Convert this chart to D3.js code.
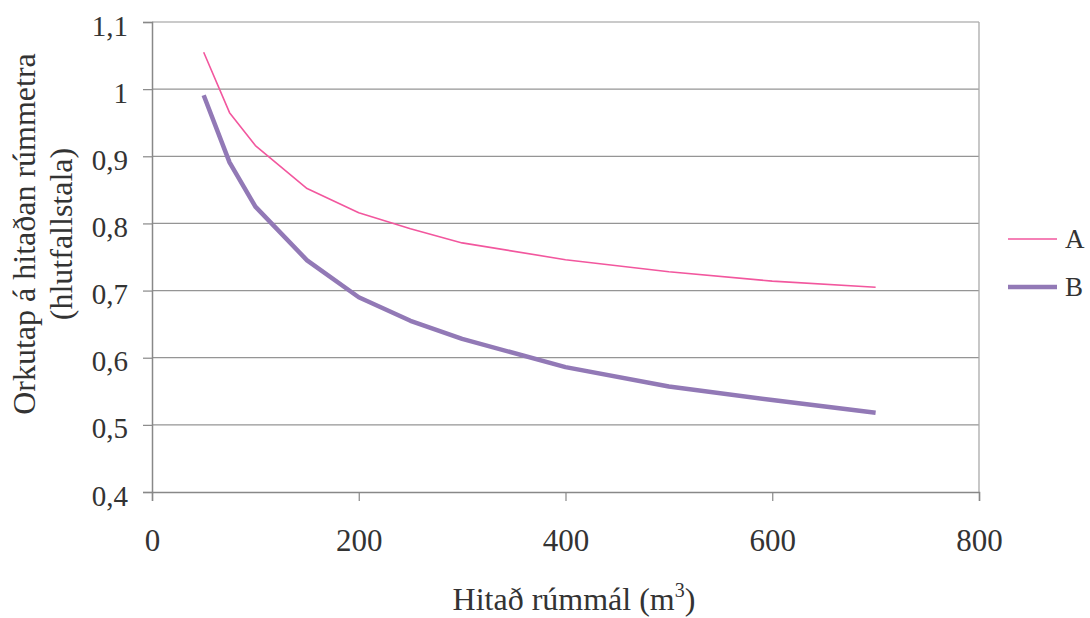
<!DOCTYPE html>
<html>
<head>
<meta charset="utf-8">
<script src="https://cdn.jsdelivr.net/npm/d3@7"></script>
<style>
  body { margin: 0; background: #fff; }
  svg text { font-family: "Liberation Serif", "Times New Roman", serif !important; fill: #333; }
</style>
</head>
<body>
<div id="chart"></div>
<script>
// Data
var volumes = [50, 75, 100, 150, 200, 250, 300, 400, 500, 600, 700];
var seriesA = [1.055, 0.965, 0.916, 0.852, 0.816, 0.792, 0.771, 0.746, 0.728, 0.714, 0.705];
var seriesB = [0.991, 0.891, 0.825, 0.745, 0.690, 0.655, 0.628, 0.586, 0.557, 0.537, 0.518];
var seriesNames = ["A", "B"];
var xTicks = [0, 200, 400, 600, 800];
var yTicks = [0.4, 0.5, 0.6, 0.7, 0.8, 0.9, 1.0, 1.1];

//Dimensions
var width = 1090, height = 618;
var margin = {top: 22, right: 111, bottom: 126, left: 152};
var serif = "'Liberation Serif', 'Times New Roman', serif";

var svg = d3.select("#chart").append("svg")
    .attr("width", width).attr("height", height)
    .attr("font-family", serif);

var x = d3.scaleLinear().domain([0, 800]).range([margin.left, width - margin.right]);
var y = d3.scaleLinear().domain([0.4, 1.1]).range([height - margin.bottom, margin.top]);

var fmt = function (d) { return d3.format("~g")(+d.toFixed(1)).replace(".", ","); };

//Gridlines
svg.append("g").selectAll("line")
    .data(yTicks.slice(1))
    .enter().append("line")
    .attr("x1", x(0)).attr("x2", x(800))
    .attr("y1", function (d) { return y(d); })
    .attr("y2", function (d) { return y(d); })
    .style("stroke", "#959595").style("stroke-width", 1.2);

// right border
svg.append("line")
    .attr("x1", x(800)).attr("x2", x(800))
    .attr("y1", y(1.1)).attr("y2", y(0.4))
    .style("stroke", "#aaa").style("stroke-width", 1.3);

//Axes
var xAxis = svg.append("g")
    .attr("transform", "translate(0," + y(0.4) + ")")
    .call(d3.axisBottom(x).tickValues(xTicks).tickSize(9).tickPadding(28).tickFormat(d3.format("d")));
var yAxis = svg.append("g")
    .attr("transform", "translate(" + x(0) + ",0)")
    .call(d3.axisLeft(y).tickValues(yTicks).tickSize(9).tickPadding(15).tickFormat(fmt));

xAxis.attr("font-size", 31);
yAxis.attr("font-size", 29);
yAxis.selectAll(".tick text").attr("dy", "0.45em");
[xAxis, yAxis].forEach(function (ax) {
    ax.attr("font-family", serif);
    ax.select(".domain").style("stroke", "#888").style("stroke-width", 1.5);
    ax.selectAll(".tick line").style("stroke", "#888").style("stroke-width", 1.2);
    ax.selectAll(".tick text").style("fill", "#333");
});

//Lines
var colors = ["#f2579e", "#9279b6"];
var widths = [1.6, 4.5];
[seriesA, seriesB].forEach(function (vals, i) {
    var line = d3.line()
        .x(function (d, j) { return x(volumes[j]); })
        .y(function (d) { return y(d); });
    svg.append("path")
        .datum(vals)
        .attr("d", line)
        .style("fill", "none")
        .style("stroke", colors[i])
        .style("stroke-width", widths[i])
        .style("stroke-linejoin", "round");
});

//Legend
var legend = svg.append("g").selectAll("g")
    .data(seriesNames)
    .enter().append("g")
    .attr("transform", function (d, i) { return "translate(1008," + (239 + i * 48) + ")"; });
legend.append("line")
    .attr("x1", 0).attr("x2", 49).attr("y1", 0).attr("y2", 0)
    .style("stroke", function (d, i) { return colors[i]; })
    .style("stroke-width", function (d, i) { return widths[i]; });
legend.append("text")
    .attr("x", 57).attr("y", 9)
    .style("font-size", "27px")
    .text(function (d) { return d; });

//Titles
var xt = svg.append("text")
    .attr("x", 574).attr("y", 610)
    .attr("text-anchor", "middle")
    .style("font-size", "32px");
xt.append("tspan").text("Hitað rúmmál (m");
xt.append("tspan").attr("dy", -13).style("font-size", "20px").text("3");
xt.append("tspan").attr("dy", 13).text(")");

var yt = svg.append("text")
    .attr("transform", "translate(35,234) rotate(-90)")
    .attr("text-anchor", "middle")
    .style("font-size", "32px");
yt.append("tspan").attr("x", 0).attr("y", 0).text("Orkutap á hitaðan rúmmetra");
yt.append("tspan").attr("x", 0).attr("y", 37).text("(hlutfallstala)");
</script>
</body>
</html>
